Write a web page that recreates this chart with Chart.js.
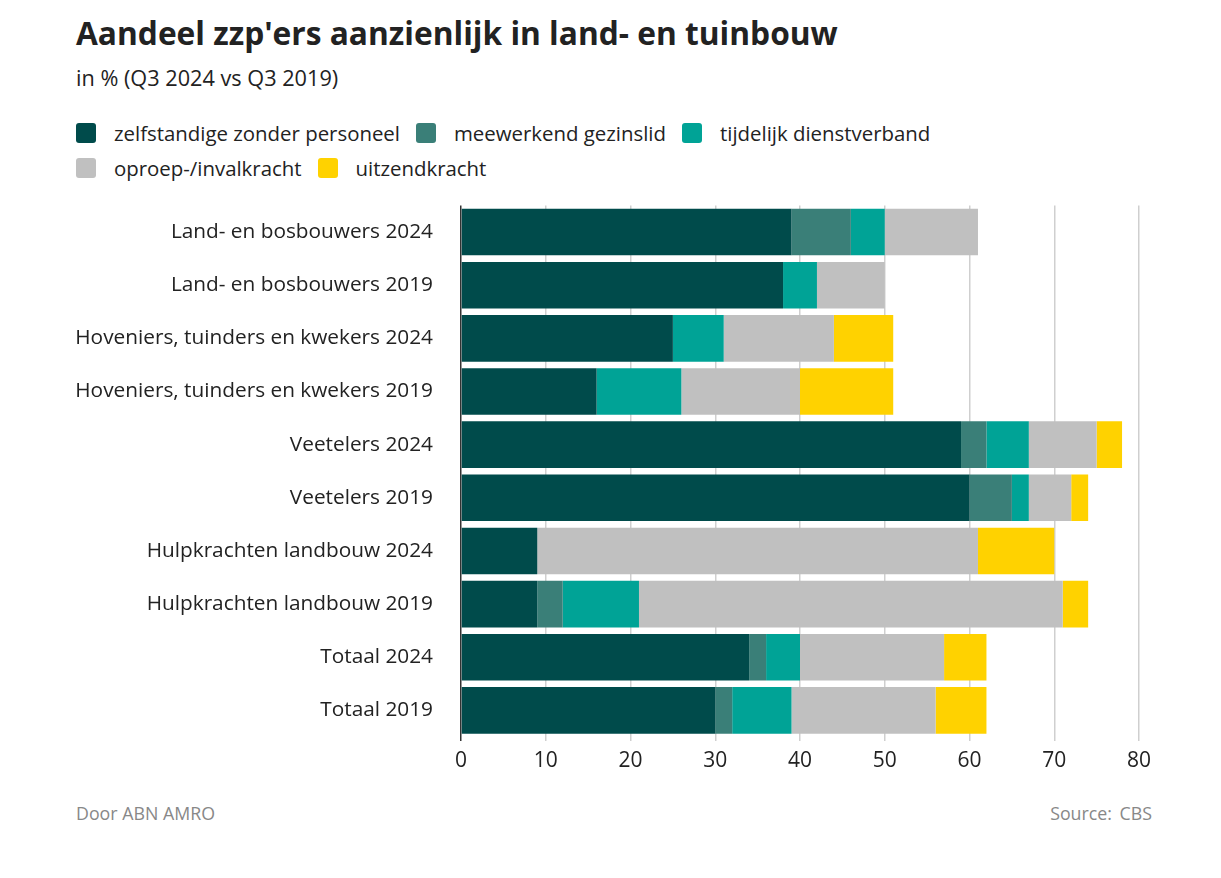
<!DOCTYPE html>
<html><head><meta charset="utf-8">
<script src="https://cdn.jsdelivr.net/npm/chart.js@4/dist/chart.umd.min.js"></script>
<style>
html,body{margin:0;padding:0;background:#fff;width:1221px;height:878px;overflow:hidden;font-family:"Open Sans",sans-serif;color:#222;}
#title{position:absolute;left:76px;top:11px;font-size:31.7px;font-weight:700;color:#222;white-space:nowrap;}
#sub{position:absolute;left:76px;top:63px;font-size:21.7px;color:#222;white-space:nowrap;}
#legend{position:absolute;left:76px;top:115px;width:1100px;}
.row{height:35px;display:flex;align-items:center;}
.item{display:flex;align-items:center;margin-right:16px;font-size:20.4px;color:#222;white-space:nowrap;}
.sw{width:20px;height:20px;border-radius:3px;margin-right:18px;}
#wrap{position:absolute;left:0;top:173px;width:1221px;height:609px;}
#foot1{position:absolute;left:76px;top:801px;font-size:17.8px;color:#888;}
#foot2{position:absolute;right:69px;top:801px;font-size:17.8px;color:#888;word-spacing:3px;}
</style></head><body>
<div id="title">Aandeel zzp'ers aanzienlijk in land- en tuinbouw</div>
<div id="sub">in % (Q3 2024 vs Q3 2019)</div>
<div id="legend"></div>
<div id="wrap"><canvas id="c"></canvas></div>
<div id="foot1">Door ABN AMRO</div>
<div id="foot2">Source: CBS</div>
<script>
const categories = ["Land- en bosbouwers 2024","Land- en bosbouwers 2019","Hoveniers, tuinders en kwekers 2024","Hoveniers, tuinders en kwekers 2019","Veetelers 2024","Veetelers 2019","Hulpkrachten landbouw 2024","Hulpkrachten landbouw 2019","Totaal 2024","Totaal 2019"];
const seriesNames = ["zelfstandige zonder personeel","meewerkend gezinslid","tijdelijk dienstverband","oproep-/invalkracht","uitzendkracht"];
const zzp        = [39, 38, 25, 16, 59, 60, 9, 9, 34, 30];
const meewerkend = [7, 0, 0, 0, 3, 5, 0, 3, 2, 2];
const tijdelijk  = [4, 4, 6, 10, 5, 2, 0, 9, 4, 7];
const oproep     = [11, 8, 13, 14, 8, 5, 52, 50, 17, 17];
const uitzend    = [0, 0, 7, 11, 3, 2, 9, 3, 5, 6];
const xTicks = [0,10,20,30,40,50,60,70,80];
const colors = ["#004b4b","#3a7f78","#00a396","#c0c0c0","#ffd200"];
const values = [zzp, meewerkend, tijdelijk, oproep, uitzend];

const rows = [[0,1,2],[3,4]];
const leg = document.getElementById('legend');
rows.forEach(r=>{
  const row=document.createElement('div');row.className='row';
  r.forEach(i=>{
    const it=document.createElement('div');it.className='item';
    it.innerHTML='<span class="sw" style="background:'+colors[i]+'"></span>'+seriesNames[i];
    row.appendChild(it);
  });
  leg.appendChild(row);
});

new Chart(document.getElementById('c'), {
  type:'bar',
  data:{
    labels:categories,
    datasets: seriesNames.map((n,i)=>({label:n,data:values[i],backgroundColor:colors[i],borderWidth:0,barPercentage:0.877,categoryPercentage:1}))
  },
  options:{
    indexAxis:'y',
    responsive:true,maintainAspectRatio:false,animation:false,
    layout:{padding:{top:0,right:82,left:0,bottom:0}},
    plugins:{legend:{display:false},tooltip:{enabled:false}},
    scales:{
      x:{stacked:true,min:0,max:80,
        afterBuildTicks:s=>{s.ticks=xTicks.map(v=>({value:v}));},
        afterFit:s=>{s.height=45;},
        grid:{color:ctx=>ctx.tick&&ctx.tick.value===0?'#333':'#cfcfcf',lineWidth:1.5,drawTicks:true,tickLength:4},
        border:{display:false},
        ticks:{color:'#222',font:{family:'Open Sans',size:21},padding:7}
      },
      y:{stacked:true,
        afterFit:s=>{s.width=461;},
        grid:{display:false},
        border:{display:false},
        ticks:{color:'#222',font:{family:'Open Sans',size:20.8},padding:20}
      }
    }
  }
});
</script>
</body></html>
